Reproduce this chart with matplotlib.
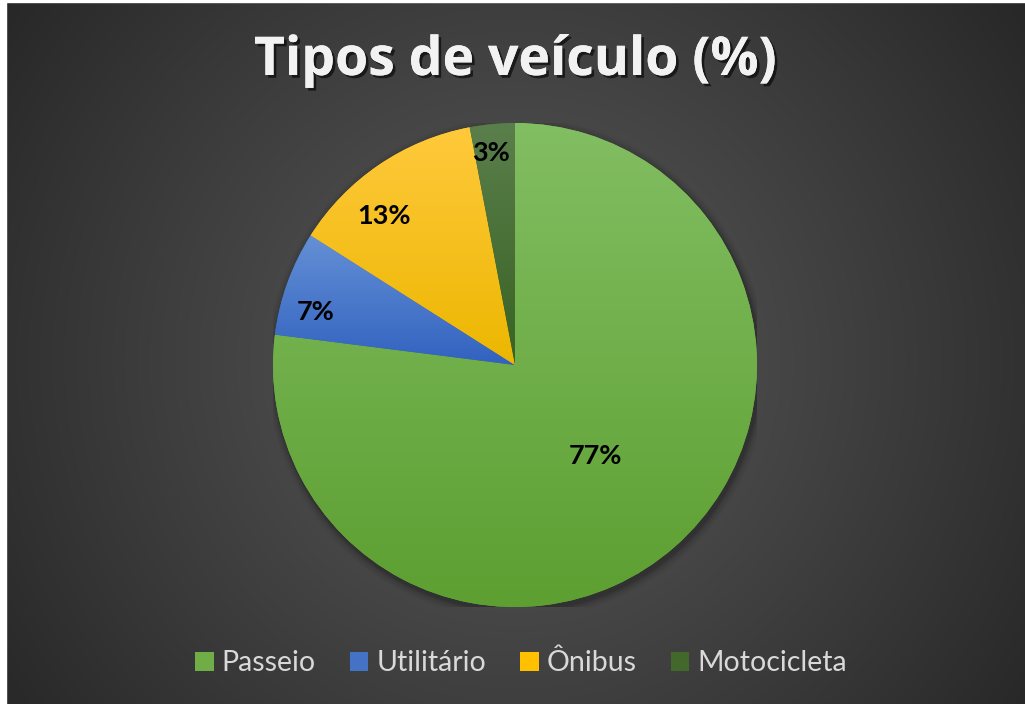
import numpy as np
import matplotlib.pyplot as plt
import matplotlib.colors as mcolors
import matplotlib.patheffects as pe
from matplotlib.patches import Rectangle, Patch, Circle

# --- Dados ---
categorias = ["Passeio", "Utilitário", "Ônibus", "Motocicleta"]
valores = [77, 7, 13, 3]
titulo = "Tipos de veículo (%)"

# cores: (topo, base) do gradiente de cada fatia
cores_topo = ["#82be62", "#6590d6", "#ffc93c", "#5b7f4c"]
cores_base = ["#5d9f31", "#3162bf", "#ecb700", "#386223"]
cores_legenda = ["#70ad47", "#4472c4", "#ffc000", "#43682b"]
# posição dos rótulos: (raio, desvio angular em graus)
dist_rotulos = [0.5, 0.85, 0.82, 0.88]
desvio_rotulos = [0, 5, 7, 1]

W, H = 1025, 704
fig = plt.figure(figsize=(W / 100, H / 100), dpi=100)

# fundo com gradiente radial
bg = fig.add_axes([0, 0, 1, 1])
yy, xx = np.mgrid[0:H, 0:W]
r = np.hypot(xx - 515, yy - 360) / np.hypot(515, 360)
r = np.clip(r, 0, 1)
c0, c1 = 0x58 / 255, 0x27 / 255
img = c0 + (c1 - c0) * r ** 1.1
bg.imshow(np.dstack([img, img, img]), extent=(0, W, H, 0), aspect="auto")
bg.set_xlim(0, W)
bg.set_ylim(H, 0)
bg.axis("off")
# borda branca do recorte
bg.add_patch(Rectangle((0, 0), 6, H, color="white", zorder=5))
bg.add_patch(Rectangle((0, 0), W, 1.5, color="white", zorder=5))

# --- Pizza ---
cx, cy, rad = 515, 365, 242
ax = fig.add_axes([(cx - rad) / W, (H - cy - rad) / H, 2 * rad / W, 2 * rad / H])
ax.set_aspect("equal")
ax.axis("off")

# sombra suave
for k, a in enumerate(np.linspace(0.08, 0.015, 6)):
    ax.add_patch(Circle((0.008, -0.014), 1.0 + 0.006 * (k + 1), color="black",
                        alpha=a, lw=0, zorder=0))

wedges, _ = ax.pie(valores, startangle=90, counterclock=False, radius=1,
                   colors=cores_legenda, wedgeprops=dict(linewidth=0))

for w, ct, cb, val, d, off in zip(wedges, cores_topo, cores_base, valores,
                                  dist_rotulos, desvio_rotulos):
    th = np.linspace(w.theta1, w.theta2, 100)
    ys = np.concatenate([np.sin(np.radians(th)), [0]])
    ymin, ymax = ys.min(), ys.max()
    cmap = mcolors.LinearSegmentedColormap.from_list("g", [cb, ct])
    grad = np.linspace(0, 1, 256).reshape(-1, 1)
    im = ax.imshow(grad, cmap=cmap, origin="lower", extent=(-1, 1, ymin, ymax),
                   aspect="auto", zorder=2)
    im.set_clip_path(w)
    w.set_zorder(1)
    mid = np.radians((w.theta1 + w.theta2) / 2 + off)
    ax.text(d * np.cos(mid), d * np.sin(mid), f"{val}%", ha="center", va="center",
            fontsize=19.5, fontweight="bold", color="black", family="Lato", zorder=3)
ax.set_xlim(-1, 1)
ax.set_ylim(-1, 1)

# título
fig.text(515 / W, 1 - 61 / H, titulo, ha="center", va="center", fontsize=38.5,
         fontweight="bold", color="#f2f2f2", family="Open Sans",
         path_effects=[pe.withSimplePatchShadow(offset=(2, -2), shadow_rgbFace="black",
                                                 alpha=0.6), pe.Normal()])

# legenda
handles = [Patch(facecolor=c, edgecolor="none") for c in cores_legenda]
leg = fig.legend(handles, categorias, loc="center", bbox_to_anchor=(521 / W, 1 - 663 / H),
                 ncol=4, frameon=False, handlelength=0.65, handleheight=0.65,
                 handletextpad=0.28, columnspacing=1.2,
                 prop=dict(family="Lato", size=20.5))
for t in leg.get_texts():
    t.set_color("#d9d9d9")

fig.savefig("out.png", dpi=100)
